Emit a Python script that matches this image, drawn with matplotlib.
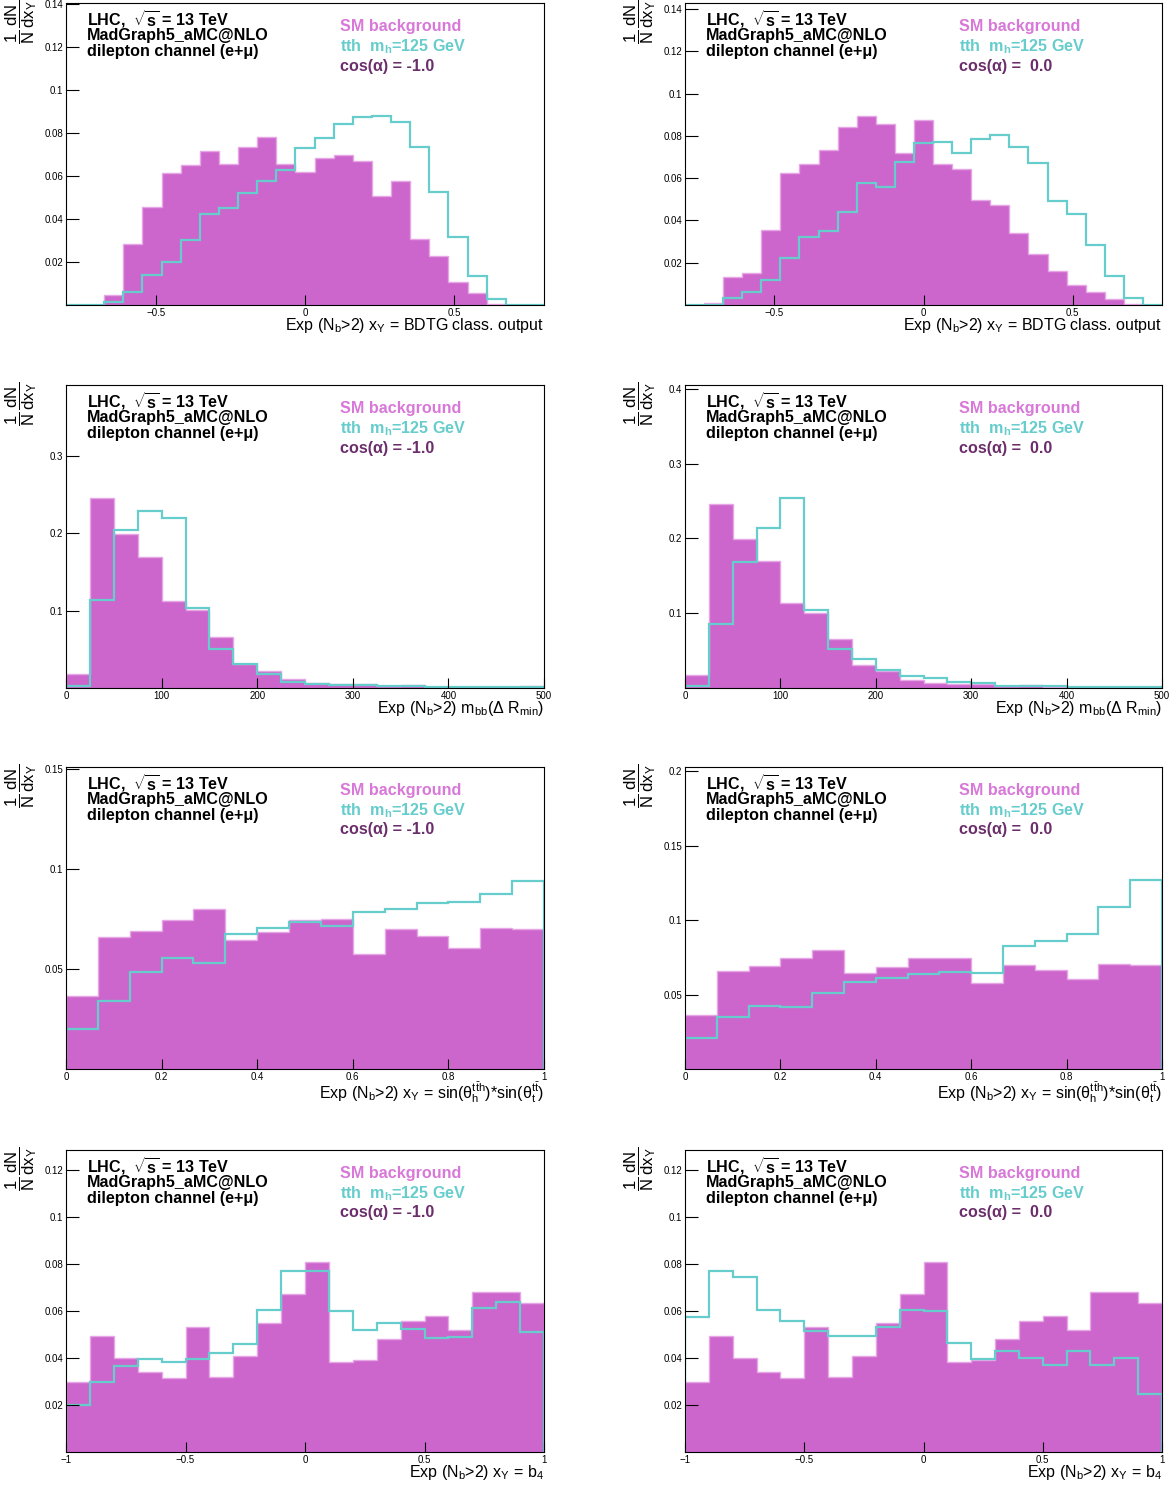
import matplotlib.pyplot as plt
import numpy as np

plt.rcParams['font.family'] = ['Liberation Sans', 'DejaVu Sans']
plt.rcParams['mathtext.fontset'] = 'custom'
plt.rcParams['mathtext.rm'] = 'Liberation Sans'
plt.rcParams['mathtext.it'] = 'Liberation Sans:italic'
plt.rcParams['mathtext.bf'] = 'Liberation Sans:bold'
plt.rcParams['mathtext.default'] = 'regular'

# ---- data (normalised histograms) ----
# BDTG classifier output, 25 bins in [-0.8, 0.8]
bdt_range = (-0.8, 0.8, 25)
bg_bdt_m1 = [0, 0, 0.0048, 0.0284, 0.0454, 0.0612, 0.0653, 0.0718, 0.0654, 0.0736, 0.0780, 0.0654, 0.0620,
             0.0682, 0.0696, 0.0671, 0.0507, 0.0577, 0.0305, 0.0228, 0.0105, 0.0054, 0.0005, 0, 0]
tth_bdt_m1 = [0, 0, 0.0015, 0.0062, 0.0140, 0.0200, 0.0302, 0.0422, 0.0450, 0.0522, 0.0578, 0.0628, 0.0729,
              0.0775, 0.0840, 0.0876, 0.0880, 0.0851, 0.0733, 0.0524, 0.0315, 0.0136, 0.0028, 0, 0]
bg_bdt_0 = [0, 0.0008, 0.0131, 0.0153, 0.0354, 0.0625, 0.0666, 0.0732, 0.0843, 0.0894, 0.0855, 0.0720, 0.0877,
            0.0669, 0.0641, 0.0496, 0.0471, 0.0339, 0.0239, 0.0161, 0.0094, 0.0060, 0.0028, 0.0005, 0]
tth_bdt_0 = [0, 0, 0.0031, 0.0060, 0.0118, 0.0220, 0.0323, 0.0350, 0.0439, 0.0578, 0.0559, 0.0676, 0.0767,
             0.0772, 0.0721, 0.0783, 0.0805, 0.0748, 0.0672, 0.0491, 0.0430, 0.0282, 0.0139, 0.0035, 0]

# m_bb(dR_min), 20 bins in [0, 500]
mbb_range = (0, 500, 20)
bg_mbb = [0.0177, 0.2455, 0.1987, 0.1700, 0.1130, 0.1009, 0.0658, 0.0307, 0.0221, 0.0113,
          0.0065, 0.0056, 0.0048, 0.0026, 0.0035, 0.0017, 0.0013, 0.0013, 0.0013, 0.0020]
tth_mbb_m1 = [0.0020, 0.1139, 0.2043, 0.2290, 0.2203, 0.1035, 0.0506, 0.0316, 0.0177, 0.0082,
              0.0056, 0.0040, 0.0035, 0.0020, 0.0020, 0.0017, 0.0010, 0.0010, 0.0010, 0.0010]
tth_mbb_0 = [0.0027, 0.0861, 0.1682, 0.2135, 0.2534, 0.1045, 0.0516, 0.0386, 0.0238, 0.0161,
             0.0130, 0.0085, 0.0063, 0.0027, 0.0022, 0.0022, 0.0009, 0.0009, 0.0009, 0.0009]

# sin(theta_h)*sin(theta_t), 15 bins in [0, 1]
sin_range = (0, 1, 15)
bg_sin = [0.0363, 0.0660, 0.0690, 0.0747, 0.0801, 0.0644, 0.0687, 0.0745, 0.0749, 0.0576,
          0.0702, 0.0667, 0.0605, 0.0704, 0.0700]
tth_sin_m1 = [0.0198, 0.0338, 0.0484, 0.0557, 0.0531, 0.0674, 0.0707, 0.0735, 0.0715, 0.0787,
              0.0800, 0.0830, 0.0835, 0.0874, 0.0942]
tth_sin_0 = [0.0211, 0.0352, 0.0422, 0.0418, 0.0512, 0.0586, 0.0611, 0.0638, 0.0649, 0.0644,
             0.0824, 0.0860, 0.0905, 0.1091, 0.1273]

# b4, 20 bins in [-1, 1]
b4_range = (-1, 1, 20)
bg_b4 = [0.0298, 0.0493, 0.0398, 0.0341, 0.0316, 0.0533, 0.0318, 0.0408, 0.0550, 0.0673,
         0.0808, 0.0382, 0.0391, 0.0480, 0.0557, 0.0580, 0.0517, 0.0680, 0.0681, 0.0633]
tth_b4_m1 = [0.0201, 0.0297, 0.0365, 0.0396, 0.0383, 0.0395, 0.0420, 0.0459, 0.0606, 0.0771,
             0.0770, 0.0600, 0.0519, 0.0549, 0.0525, 0.0485, 0.0490, 0.0613, 0.0640, 0.0509]
tth_b4_0 = [0.0573, 0.0770, 0.0746, 0.0604, 0.0559, 0.0516, 0.0492, 0.0492, 0.0530, 0.0603,
            0.0599, 0.0465, 0.0395, 0.0428, 0.0399, 0.0369, 0.0429, 0.0371, 0.0398, 0.0245]

# tick labels
xt_bdt = [-0.5, 0, 0.5]
xl_bdt = ['\u22120.5', '0', '0.5']
xt_mbb = [0, 100, 200, 300, 400, 500]
xl_mbb = ['0', '100', '200', '300', '400', '500']
xt_sin = [0, 0.2, 0.4, 0.6, 0.8, 1]
xl_sin = ['0', '0.2', '0.4', '0.6', '0.8', '1']
xt_b4 = [-1, -0.5, 0, 0.5, 1]
xl_b4 = ['\u22121', '\u22120.5', '0', '0.5', '1']

yt_bdt = [0.02, 0.04, 0.06, 0.08, 0.1, 0.12, 0.14]
yl_bdt = ['0.02', '0.04', '0.06', '0.08', '0.1', '0.12', '0.14']
yt_mbb = [0.1, 0.2, 0.3, 0.4]
yl_mbb = ['0.1', '0.2', '0.3', '0.4']
yt_sin = [0.05, 0.1, 0.15, 0.2]
yl_sin = ['0.05', '0.1', '0.15', '0.2']
yt_b4 = [0.02, 0.04, 0.06, 0.08, 0.1, 0.12]
yl_b4 = ['0.02', '0.04', '0.06', '0.08', '0.1', '0.12']

xlab_bdt = r'Exp (N$_{b}$>2) x$_{Y}$ = BDTG class. output'
xlab_mbb = r'Exp (N$_{b}$>2) m$_{bb}$($\Delta$ R$_{min}$)'
xlab_sin = r'Exp (N$_{b}$>2) x$_{Y}$ = sin($\theta_{h}^{t\bar{t}h}$)*sin($\theta_{t}^{t\bar{t}}$)'
xlab_b4 = r'Exp (N$_{b}$>2) x$_{Y}$ = b$_{4}$'

cos_labels = ['cos(\u03b1) = -1.0', 'cos(\u03b1) =  0.0']

BG_FILL = '#cc66cc'
BG_EDGE = '#e6a6e6'
TTH_COL = '#66cccc'
BG_TXT = '#d878d8'
COS_TXT = '#6b2e6b'

W, H = 1175, 1490
fig = plt.figure(figsize=(W / 100, H / 100), dpi=100)

cols_px = [(66, 544), (685, 1162)]
rows_px = [(3, 305), (385, 688), (767, 1069), (1150, 1452)]

rows = [
    (bdt_range, [bg_bdt_m1, bg_bdt_0], [tth_bdt_m1, tth_bdt_0], [0.1405, 0.1428],
     (xt_bdt, xl_bdt), (yt_bdt, yl_bdt), xlab_bdt),
    (mbb_range, [bg_mbb, bg_mbb], [tth_mbb_m1, tth_mbb_0], [0.392, 0.405],
     (xt_mbb, xl_mbb), (yt_mbb, yl_mbb), xlab_mbb),
    (sin_range, [bg_sin, bg_sin], [tth_sin_m1, tth_sin_0], [0.151, 0.203],
     (xt_sin, xl_sin), (yt_sin, yl_sin), xlab_sin),
    (b4_range, [bg_b4, bg_b4], [tth_b4_m1, tth_b4_0], [0.1285, 0.1285],
     (xt_b4, xl_b4), (yt_b4, yl_b4), xlab_b4),
]


def label(ax, dx, dy, s, **kw):
    ax.annotate(s, xy=(0, 1), xycoords='axes fraction', xytext=(dx, -dy),
                textcoords='offset pixels', va='center', ha='left', **kw)


for r, (rng, bgs, tths, ymaxs, (xt, xl), (yt, yl), xlab) in enumerate(rows):
    edges = np.linspace(rng[0], rng[1], rng[2] + 1)
    for c in range(2):
        x0, x1 = cols_px[c]
        t, b = rows_px[r]
        ax = fig.add_axes([x0 / W, 1 - b / H, (x1 - x0) / W, (b - t) / H])
        ax.stairs(bgs[c], edges, fill=True, facecolor=BG_FILL, edgecolor=BG_EDGE, linewidth=1)
        ax.stairs(tths[c], edges, baseline=0, color=TTH_COL, linewidth=1.6)
        ax.set_xlim(edges[0], edges[-1])
        ax.set_ylim(0, ymaxs[c])

        ymask = [v <= ymaxs[c] for v in yt]
        ax.set_yticks([v for v, m in zip(yt, ymask) if m])
        ax.set_yticklabels([s for s, m in zip(yl, ymask) if m])
        ax.set_xticks(xt)
        ax.set_xticklabels(xl)
        ax.tick_params(axis='both', direction='in', labelsize=7, width=0.8, top=False, right=False)
        ax.tick_params(axis='y', length=9, pad=2)
        ax.tick_params(axis='x', length=7, pad=2.5)
        for sp in ax.spines.values():
            sp.set_linewidth(0.8)
            sp.set_color('black')

        ax.set_xlabel(xlab, loc='right', fontsize=11.5, labelpad=-1.5)
        ax.text(-0.094, 1.012, r'$\dfrac{1}{N}\,\dfrac{dN}{dx_{Y}}$', rotation=90, fontsize=12,
                transform=ax.transAxes, ha='center', va='top')

        fs = 11.6
        label(ax, 21, 16.5, 'LHC,  $\\sqrt{s}$ = 13 TeV', fontsize=fs, fontweight='bold')
        label(ax, 21, 32.5, 'MadGraph5_aMC@NLO', fontsize=fs, fontweight='bold')
        label(ax, 21, 48.5, 'dilepton channel (e+\u03bc)', fontsize=fs, fontweight='bold')
        label(ax, 274, 23.5, 'SM background', fontsize=fs, fontweight='bold', color=BG_TXT)
        label(ax, 274, 43.5, 'tth  m$_{h}$=125 GeV', fontsize=fs, fontweight='bold', color=TTH_COL)
        label(ax, 274, 63, cos_labels[c], fontsize=fs, fontweight='bold', color=COS_TXT)

fig.savefig('out.png', dpi=100)
